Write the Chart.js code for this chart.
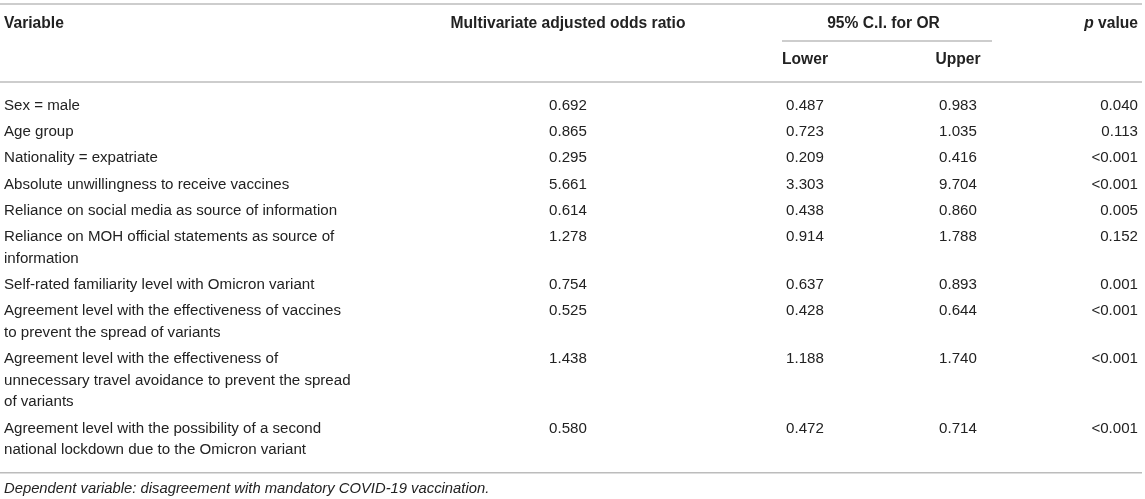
<!DOCTYPE html>
<html>
<head>
<meta charset="utf-8">
<script src="https://cdn.jsdelivr.net/npm/chart.js@4.4.1/dist/chart.umd.min.js"></script>
<style>
  html, body { margin: 0; padding: 0; background: #fff; }
  #wrap { width: 1145px; height: 499px; position: relative; }
</style>
</head>
<body>
<div id="wrap"><canvas id="table_chart"></canvas></div>
<script>
// table content
const variables = [
    ['Sex = male'],
    ['Age group'],
    ['Nationality = expatriate'],
    ['Absolute unwillingness to receive vaccines'],
    ['Reliance on social media as source of information'],
    ['Reliance on MOH official statements as source of', 'information'],
    ['Self-rated familiarity level with Omicron variant'],
    ['Agreement level with the effectiveness of vaccines', 'to prevent the spread of variants'],
    ['Agreement level with the effectiveness of', 'unnecessary travel avoidance to prevent the spread', 'of variants'],
    ['Agreement level with the possibility of a second', 'national lockdown due to the Omicron variant']
];
const oddsRatio = [0.692, 0.865, 0.295, 5.661, 0.614, 1.278, 0.754, 0.525, 1.438, 0.580];
const ciLower = [0.487, 0.723, 0.209, 3.303, 0.438, 0.914, 0.637, 0.428, 1.188, 0.472];
const ciUpper = [0.983, 1.035, 0.416, 9.704, 0.860, 1.788, 0.893, 0.644, 1.740, 0.714];
const pValues = ['0.040', '0.113', '<0.001', '<0.001', '0.005', '0.152', '0.001', '<0.001', '<0.001', '<0.001'];
const headers = ['Variable', 'Multivariate adjusted odds ratio', '95% C.I. for OR', 'p value'];
const subHeaders = ['Lower', 'Upper'];
const footnote = 'Dependent variable: disagreement with mandatory COVID-19 vaccination.';

// layout (in canvas units, scales run 0..width and 0..height)
const W = 1145, H = 499;
const colX = {variable: 4, or: 568, lower: 805, upper: 958, p: 1138};
const ruleColor = '#bcbcbc';
const textColor = '#222222';
const FONT = '"Liberation Sans", Arial, Helvetica, sans-serif';
const fontSize = 15.1;
const boldSize = 15.6;
const italicSize = 14.8;
const headerY = 24, subHeaderY = 60;
const firstRowY = 105.5, rowPitch = 26.3, lineStep = 21.6;

// compute row positions from the number of lines in each label
const rowY = [];
let y = firstRowY;
variables.forEach(lines => {
    rowY.push(y);
    y += rowPitch + (lines.length - 1) * lineStep;
});
const lastLineY = rowY[rowY.length - 1] + (variables[variables.length - 1].length - 1) * lineStep;
const bottomRuleY = lastLineY + 22.5;
const footnoteY = bottomRuleY + 16;

function rule(x0, x1, yy) {
    return {
        type: 'line',
        data: [{x: x0, y: yy}, {x: x1, y: yy}],
        borderColor: ruleColor,
        borderWidth: 1.5,
        pointRadius: 0,
        fill: false
    };
}

function textSet(cells) {
    return {type: 'scatter', data: cells, pointRadius: 0, isText: true};
}

const headerCells = [
    {x: colX.variable, y: headerY, text: headers[0], align: 'left', bold: true},
    {x: colX.or, y: headerY, text: headers[1], align: 'center', bold: true},
    {x: (colX.lower + colX.upper) / 2 + 2, y: headerY, text: headers[2], align: 'center', bold: true},
    {x: colX.p, y: headerY, text: headers[3], align: 'right', bold: true, italicFirst: true},
    {x: colX.lower, y: subHeaderY, text: subHeaders[0], align: 'center', bold: true},
    {x: colX.upper, y: subHeaderY, text: subHeaders[1], align: 'center', bold: true}
];

const varCells = [];
variables.forEach((lines, i) => {
    lines.forEach((ln, j) => {
        varCells.push({x: colX.variable, y: rowY[i] + j * lineStep, text: ln, align: 'left'});
    });
});
const orCells = oddsRatio.map((v, i) => ({x: colX.or, y: rowY[i], text: v.toFixed(3), align: 'center'}));
const lowerCells = ciLower.map((v, i) => ({x: colX.lower, y: rowY[i], text: v.toFixed(3), align: 'center'}));
const upperCells = ciUpper.map((v, i) => ({x: colX.upper, y: rowY[i], text: v.toFixed(3), align: 'center'}));
const pCells = pValues.map((v, i) => ({x: colX.p, y: rowY[i], text: v, align: 'right'}));
const noteCells = [{x: colX.variable, y: footnoteY, text: footnote, align: 'left', italic: true}];

// draws the text carried by the invisible scatter points
const cellText = {
    id: 'cellText',
    afterDatasetsDraw(chart) {
        const ctx = chart.ctx;
        ctx.save();
        ctx.fillStyle = textColor;
        ctx.textBaseline = 'middle';
        chart.data.datasets.forEach((ds, di) => {
            if (!ds.isText) return;
            const meta = chart.getDatasetMeta(di);
            meta.data.forEach((pt, i) => {
                const cell = ds.data[i];
                const weight = cell.bold ? 'bold ' : '';
                const size = cell.bold ? boldSize : (cell.italic ? italicSize : fontSize);
                const style = cell.italic ? 'italic ' : '';
                if (cell.italicFirst) {
                    // "p value" with italic p
                    const [first, ...rest] = cell.text.split(' ');
                    const restText = ' ' + rest.join(' ');
                    ctx.font = weight + size + 'px ' + FONT;
                    const wRest = ctx.measureText(restText).width;
                    ctx.textAlign = 'right';
                    ctx.fillText(restText, pt.x, pt.y);
                    ctx.font = 'italic ' + weight + size + 'px ' + FONT;
                    ctx.fillText(first, pt.x - wRest, pt.y);
                    return;
                }
                ctx.font = style + weight + size + 'px ' + FONT;
                ctx.textAlign = cell.align;
                ctx.fillText(cell.text, pt.x, pt.y);
            });
        });
        ctx.restore();
    }
};

document.addEventListener('DOMContentLoaded', () => {
    const ctx = document.getElementById('table_chart').getContext('2d');
    new Chart(ctx, {
        type: 'scatter',
        data: {
            datasets: [
                rule(0, 1142, 4),
                rule(782, 992, 41),
                rule(0, 1142, 82),
                rule(0, 1142, bottomRuleY),
                textSet(headerCells),
                textSet(varCells),
                textSet(orCells),
                textSet(lowerCells),
                textSet(upperCells),
                textSet(pCells),
                textSet(noteCells)
            ]
        },
        options: {
            responsive: true,
            maintainAspectRatio: false,
            animation: false,
            layout: {padding: 0},
            plugins: {legend: {display: false}, tooltip: {enabled: false}},
            events: [],
            scales: {
                x: {type: 'linear', min: 0, max: W, display: false},
                y: {type: 'linear', min: 0, max: H, reverse: true, display: false}
            }
        },
        plugins: [cellText]
    });
});
</script>
</body>
</html>
